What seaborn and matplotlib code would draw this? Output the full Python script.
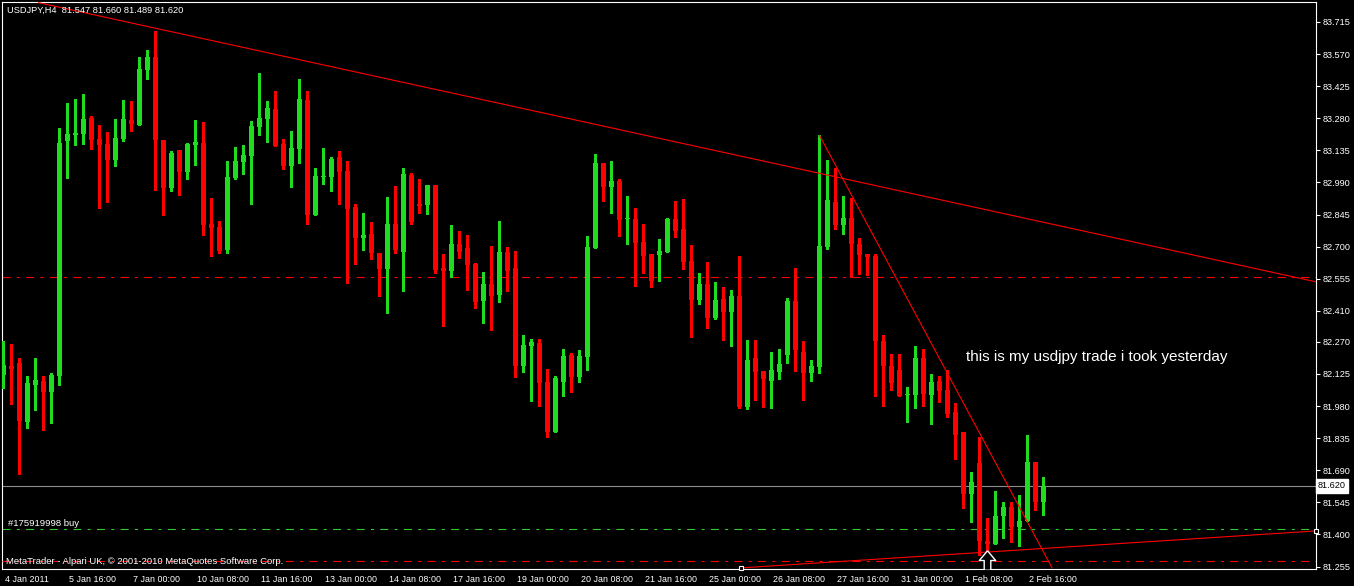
import numpy as np
import pandas as pd
import seaborn as sns
import matplotlib.pyplot as plt
from matplotlib.path import Path
from matplotlib.transforms import ScaledTranslation, blended_transform_factory

# USDJPY H4 candles, 4 Jan - 2 Feb 2011
opens = [82.121, 82.161, 82.175, 81.908, 82.075, 82.093, 82.044, 82.116, 83.178, 83.205,
         83.209, 83.281, 83.187, 83.164, 83.092, 83.187, 83.272, 83.250, 83.498, 83.557,
         83.182, 82.965, 83.137, 83.037, 83.159, 83.168, 82.803, 82.789, 82.685, 83.010,
         83.083, 83.110, 83.241, 83.277, 83.322, 83.164, 83.065, 83.141, 83.363, 82.843,
         83.015, 83.015, 83.105, 83.042, 82.879, 82.739, 82.757, 82.672, 82.599, 82.803,
         82.676, 83.024, 82.894, 82.888, 82.979, 82.604, 82.590, 82.712, 82.694, 82.622,
         82.455, 82.532, 82.482, 82.676, 82.604, 82.161, 82.251, 82.265, 82.089, 81.863,
         82.089, 82.211, 82.111, 82.202, 82.694, 83.078, 82.969, 82.997, 82.825, 82.825,
         82.721, 82.667, 82.662, 82.676, 82.825, 82.780, 82.635, 82.459, 82.531, 82.378,
         82.464, 82.405, 82.477, 81.976, 82.197, 82.138, 82.093, 82.134, 82.211, 82.454,
         82.224, 82.129, 82.156, 82.698, 82.902, 82.798, 82.829, 82.712, 82.667, 82.658,
         82.274, 82.161, 82.143, 82.030, 82.030, 82.197, 82.030, 82.093, 82.052, 81.953,
         81.863, 81.583, 81.723, 81.372, 81.359, 81.484, 81.524, 81.434, 81.461, 81.728,
         81.547]
highs = [82.274, 82.261, 82.197, 82.116, 82.197, 82.116, 82.130, 83.236, 83.349, 83.367,
         83.390, 83.290, 83.250, 83.218, 83.277, 83.363, 83.358, 83.557, 83.589, 83.674,
         83.182, 83.132, 83.137, 83.168, 83.272, 83.263, 82.920, 82.816, 83.087, 83.150,
         83.159, 83.268, 83.485, 83.358, 83.403, 83.187, 83.223, 83.458, 83.403, 83.056,
         83.146, 83.105, 83.132, 83.087, 82.893, 82.852, 82.812, 82.672, 82.925, 82.974,
         83.056, 83.033, 83.006, 82.979, 82.979, 82.667, 82.798, 82.771, 82.753, 82.626,
         82.586, 82.703, 82.816, 82.699, 82.681, 82.301, 82.283, 82.283, 82.147, 82.116,
         82.238, 82.220, 82.233, 82.748, 83.118, 83.078, 83.087, 83.006, 82.929, 82.875,
         82.802, 82.667, 82.735, 82.829, 82.906, 82.915, 82.707, 82.581, 82.631, 82.540,
         82.518, 82.504, 82.658, 82.278, 82.278, 82.138, 82.224, 82.238, 82.468, 82.604,
         82.274, 82.188, 83.204, 83.091, 83.055, 82.929, 82.920, 82.739, 82.667, 82.667,
         82.301, 82.215, 82.215, 82.066, 82.251, 82.238, 82.125, 82.116, 82.143, 81.994,
         81.863, 81.683, 81.841, 81.475, 81.597, 81.547, 81.547, 81.579, 81.850, 81.728,
         81.660]
lows = [82.063, 81.990, 81.675, 81.883, 81.962, 81.874, 81.904, 82.075, 83.010, 83.159,
        83.164, 83.141, 82.875, 82.902, 83.065, 83.178, 83.223, 83.250, 83.458, 82.956,
        82.843, 82.952, 82.934, 83.006, 83.069, 82.753, 82.658, 82.672, 82.672, 83.006,
        83.028, 82.893, 83.205, 83.173, 83.155, 83.051, 82.970, 83.078, 82.803, 82.843,
        82.983, 82.952, 82.893, 82.536, 82.622, 82.685, 82.645, 82.477, 82.401, 82.672,
        82.500, 82.803, 82.852, 82.848, 82.581, 82.342, 82.563, 82.649, 82.504, 82.423,
        82.355, 82.324, 82.450, 82.500, 82.112, 82.134, 82.003, 81.980, 81.840, 81.863,
        82.025, 82.043, 82.089, 82.143, 82.694, 82.906, 82.852, 82.748, 82.712, 82.522,
        82.581, 82.518, 82.545, 82.676, 82.744, 82.599, 82.292, 82.441, 82.333, 82.373,
        82.278, 82.251, 81.971, 81.967, 82.007, 81.976, 81.971, 82.102, 82.174, 82.138,
        82.007, 82.093, 82.129, 82.689, 82.780, 82.757, 82.563, 82.576, 82.572, 82.025,
        81.980, 82.052, 82.025, 81.908, 81.971, 81.980, 81.899, 81.998, 81.930, 81.741,
        81.520, 81.457, 81.308, 81.318, 81.359, 81.384, 81.366, 81.348, 81.461, 81.511,
        81.489]
closes = [82.166, 82.148, 81.913, 82.084, 82.098, 82.044, 82.121, 83.168, 83.209, 83.214,
          83.277, 83.182, 83.159, 83.092, 83.191, 83.277, 83.254, 83.503, 83.557, 83.182,
          82.965, 83.123, 83.037, 83.164, 83.173, 82.798, 82.785, 82.681, 83.015, 83.087,
          83.114, 83.245, 83.281, 83.327, 83.155, 83.065, 83.146, 83.367, 82.843, 83.019,
          83.019, 83.096, 83.037, 82.870, 82.739, 82.753, 82.672, 82.599, 82.803, 82.685,
          83.028, 82.812, 82.885, 82.979, 82.595, 82.590, 82.712, 82.676, 82.617, 82.450,
          82.532, 82.477, 82.676, 82.590, 82.161, 82.256, 82.269, 82.084, 81.863, 82.107,
          82.206, 82.111, 82.206, 82.698, 83.078, 82.969, 82.997, 82.820, 82.829, 82.716,
          82.658, 82.545, 82.680, 82.825, 82.771, 82.631, 82.459, 82.531, 82.378, 82.459,
          82.405, 82.477, 81.976, 82.188, 82.134, 82.102, 82.143, 82.170, 82.454, 82.233,
          82.129, 82.161, 82.703, 82.911, 82.798, 82.829, 82.712, 82.662, 82.653, 82.274,
          82.161, 82.084, 82.025, 82.034, 82.197, 82.034, 82.089, 82.048, 81.944, 81.849,
          81.583, 81.637, 81.371, 81.359, 81.484, 81.524, 81.434, 81.461, 81.728, 81.545,
          81.620]

time_labels = ["4 Jan 2011", "5 Jan 16:00", "7 Jan 00:00", "10 Jan 08:00", "11 Jan 16:00",
               "13 Jan 00:00", "14 Jan 08:00", "17 Jan 16:00", "19 Jan 00:00", "20 Jan 08:00",
               "21 Jan 16:00", "25 Jan 00:00", "26 Jan 08:00", "27 Jan 16:00", "31 Jan 00:00",
               "1 Feb 08:00", "2 Feb 16:00"]
price_labels = ["83.715", "83.570", "83.425", "83.280", "83.135", "82.990", "82.845", "82.700",
                "82.555", "82.410", "82.270", "82.125", "81.980", "81.835", "81.690", "81.545",
                "81.400", "81.255"]

# order levels
tp_price = 82.563
sl_price = 81.281
buy_price = 81.425
buy_bar = 123
buy_arrow_price = 81.285

# trend lines as (bar index, price) anchors
upper_x, upper_y = [4.4, 164.1], [83.802, 82.541]
steep_x, steep_y = [102.0, 131.1], [83.204, 81.249]
lower_x, lower_y = [92.2, 164.1], [81.249, 81.416]

df = pd.DataFrame({"open": opens, "high": highs, "low": lows, "close": closes})
df["bar"] = np.arange(len(df))
df["up"] = df["close"] >= df["open"]

GREEN = "#20dc20"
RED = "#ff0000"

sns.set_theme(style="dark", rc={
    "figure.facecolor": "black",
    "axes.facecolor": "black",
    "axes.edgecolor": "white",
    "lines.scale_dashes": False,
})
plt.rcParams["font.family"] = ["Liberation Sans", "DejaVu Sans"]

fig = plt.figure(figsize=(13.54, 5.86), dpi=100)
ax = fig.add_axes([2 / 1354, 17 / 586, 1314 / 1354, 567 / 586])

colors = np.where(df["up"], GREEN, RED)
ax.vlines(df["bar"], df["low"], df["high"], colors=colors, lw=0.8, antialiased=False, zorder=3)
body_lo = np.minimum(df["open"], df["close"])
body_h = np.maximum((df["close"] - df["open"]).abs(), 0.005)
ax.bar(df["bar"], body_h, bottom=body_lo, width=0.62, color=colors, linewidth=0, zorder=4)

# levels
dash = (5.8, 4.5, 2.2, 4.5)
ax.axhline(tp_price, color=RED, lw=0.8, dashes=dash, zorder=2)
ax.axhline(sl_price, color=RED, lw=0.8, dashes=dash, zorder=6)
ax.axhline(buy_price, color="#32c832", lw=0.8, dashes=dash, zorder=2)
ax.axhline(df["close"].iloc[-1], color="#8c8c8c", lw=0.8, zorder=2)

# trend lines
sns.lineplot(x=upper_x, y=upper_y, ax=ax, color=RED, lw=0.8, zorder=5)
sns.lineplot(x=steep_x, y=steep_y, ax=ax, color=RED, lw=0.8, zorder=5)
sns.lineplot(x=lower_x, y=lower_y, ax=ax, color=RED, lw=0.8, zorder=5)
ax.plot(lower_x, lower_y, ls="none", marker="s", ms=3.5, mfc="black", mec="white",
        mew=0.8, zorder=7, clip_on=False)

# buy arrow
arrow = Path([(0, 0.5), (0.42, 0.0), (0.17, 0.0), (0.17, -0.5), (-0.17, -0.5),
              (-0.17, 0.0), (-0.42, 0.0), (0, 0.5)])
ax.plot([buy_bar], [buy_arrow_price], ls="none", marker=arrow, ms=14, mfc="black",
        mec="white", mew=1.0, zorder=8)

ax.set_xlim(-0.1625, 164.09)
ax.set_ylim(81.244, 83.805)
ax.set_xlabel("")
ax.set_ylabel("")
ax.grid(False)
for s in ax.spines.values():
    s.set_color("white")
    s.set_linewidth(0.8)

ax.set_xticks(np.arange(len(time_labels)) * 8)
ax.set_xticklabels(time_labels)
ax.tick_params(axis="x", colors="white", length=3, width=0.8, labelsize=6.4, pad=1.5,
               labelcolor="white")
shift = ScaledTranslation(2 / 100, 0, fig.dpi_scale_trans)
for lab in ax.get_xticklabels():
    lab.set_horizontalalignment("left")
    lab.set_transform(lab.get_transform() + shift)

ax.yaxis.tick_right()
ax.set_yticks([float(p) for p in price_labels])
ax.set_yticklabels(price_labels)
ax.tick_params(axis="y", colors="white", length=3, width=0.8, labelsize=6.6, pad=2,
               labelcolor="white")

# current price box on the price scale
trans = blended_transform_factory(ax.transAxes, ax.transData)
ax.text(1.0016, df["close"].iloc[-1], f"{df['close'].iloc[-1]:.3f}", transform=trans,
        ha="left", va="center", fontsize=6.6, color="black", zorder=10,
        bbox=dict(boxstyle="square,pad=0.25", fc="white", ec="white"))

last = df.iloc[-1]
fig.text(7 / 1354, 1 - 10 / 586,
         f"USDJPY,H4  {last['open']:.3f} {last['high']:.3f} {last['low']:.3f} {last['close']:.3f}",
         color="white", fontsize=6.7, va="center", ha="left")
fig.text(8 / 1354, 1 - 523 / 586, "#175919998 buy", color="white", fontsize=6.8,
         va="center", ha="left")
fig.text(6 / 1354, 1 - 561 / 586, "MetaTrader - Alpari UK, \u00a9 2001-2010 MetaQuotes Software Corp.",
         color="white", fontsize=6.8, va="center", ha="left")
fig.text(966 / 1354, 1 - 357 / 586, "this is my usdjpy trade i took yesterday",
         color="white", fontsize=11, va="center", ha="left")

fig.savefig("out.png", dpi=100, facecolor="black")
